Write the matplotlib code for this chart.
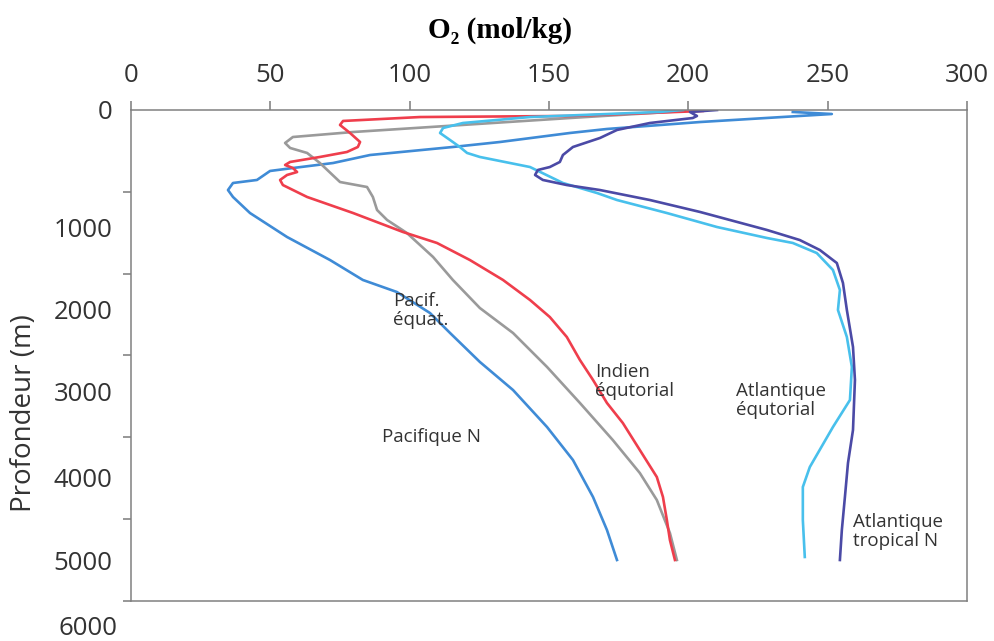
import matplotlib
matplotlib.use('Agg')
import matplotlib.pyplot as plt
import matplotlib.transforms as mtransforms

plt.rcParams['font.family'] = ['Open Sans', 'DejaVu Sans']

# O2 (mol/kg) vs depth (m)
pac_n_o2 = [237.5, 251.5, 204.2, 170.8, 157.5, 132.4, 115.5, 85.8, 72.5, 58.1, 49.9, 45.2, 36.6, 34.8,
            36.6, 42.7, 56.0, 71.4, 83.2, 95.4, 107.3, 114.5, 125.2, 137.1, 149.3, 158.6, 165.8, 170.8, 174.4]
pac_n_depth = [24, 49, 147, 232, 281, 391, 452, 550, 648, 709, 745, 855, 892, 978,
               1063, 1259, 1552, 1833, 2077, 2224, 2481, 2725, 3079, 3422, 3874, 4277, 4729, 5132, 5499]

pac_eq_o2 = [198.8, 157.5, 79.7, 58.1, 55.3, 57.1, 63.2, 67.8, 75.0, 84.7, 86.8, 88.3, 91.9,
             99.0, 108.4, 115.5, 125.2, 137.1, 149.3, 161.1, 172.9, 182.6, 188.7, 193.4, 195.9]
pac_eq_depth = [12, 98, 269, 330, 403, 464, 525, 648, 880, 941, 1063, 1222, 1344,
                1503, 1796, 2077, 2420, 2725, 3140, 3580, 4033, 4436, 4766, 5169, 5499]

ind_eq_o2 = [205.2, 157.5, 103.7, 76.1, 75.0, 78.6, 82.2, 81.4, 77.5, 67.8, 57.1, 55.3, 58.1, 59.6,
             56.0, 53.5, 54.5, 63.2, 79.7, 97.6, 109.8, 121.6, 133.5, 143.2, 150.3, 156.4, 161.1,
             165.8, 170.8, 176.5, 182.6, 188.7, 190.9, 192.3, 193.4, 195.2]
ind_eq_depth = [12, 73, 86, 134, 183, 281, 391, 452, 513, 574, 635, 672, 709, 758,
                794, 855, 917, 1063, 1259, 1491, 1625, 1833, 2077, 2322, 2530, 2774, 3055,
                3299, 3580, 3825, 4155, 4485, 4729, 5010, 5255, 5499]

atl_eq_o2 = [198.1, 189.8, 143.2, 119.1, 112.0, 110.9, 114.5, 118.0, 120.6, 125.2, 143.2, 155.0,
             167.2, 174.4, 192.3, 210.3, 228.2, 237.5, 246.1, 251.9, 254.4, 253.7, 256.9, 258.7,
             258.0, 251.9, 243.6, 241.1, 241.1, 241.8]
atl_eq_depth = [0, 24, 86, 159, 220, 281, 367, 452, 525, 574, 697, 892,
                1014, 1100, 1259, 1430, 1564, 1625, 1748, 1955, 2200, 2444, 2774, 3140,
                3544, 3874, 4363, 4607, 5010, 5462]

atl_tn_o2 = [210.3, 200.6, 203.1, 201.6, 186.2, 174.4, 168.3, 158.6, 155.0, 153.9, 150.3, 146.0,
             145.0, 147.8, 156.4, 168.3, 186.2, 204.2, 228.2, 240.0, 247.2, 253.3, 255.5, 256.9,
             259.1, 259.8, 259.1, 257.3, 256.2, 255.1, 254.4]
atl_tn_depth = [0, 24, 73, 98, 159, 244, 342, 452, 550, 635, 697, 733,
                794, 855, 917, 978, 1100, 1246, 1466, 1589, 1711, 1870, 2114, 2444,
                2896, 3299, 3910, 4314, 4729, 5132, 5499]

depth_labels = ['0', '1000', '2000', '3000', '4000', '5000']
depth_label_pos = [0, 1436, 2444, 3434, 4485, 5499]

fig = plt.figure(figsize=(9.94, 6.41), dpi=100)
ax = fig.add_axes([0.1318, 0.0624, 0.8410, 0.7660])

ax.plot(pac_n_o2, pac_n_depth, color='#3f8bd6', lw=1.9, solid_joinstyle='round')
ax.plot(pac_eq_o2, pac_eq_depth, color='#9a9a9a', lw=1.9, solid_joinstyle='round')
ax.plot(ind_eq_o2, ind_eq_depth, color='#ef3e4c', lw=1.9, solid_joinstyle='round')
ax.plot(atl_eq_o2, atl_eq_depth, color='#48c0ec', lw=1.9, solid_joinstyle='round')
ax.plot(atl_tn_o2, atl_tn_depth, color='#4b4aa6', lw=1.9, solid_joinstyle='round')

ax.set_xlim(0, 300)
ax.set_ylim(6000, 0)
ax.xaxis.tick_top()
ax.set_xticks(range(0, 301, 50))
ax.tick_params(axis='x', length=6.5, width=1.1, color='#7a7a7a', pad=9.5,
               labelsize=18.5, labelcolor='#333333')

ax.set_yticks(depth_label_pos, depth_labels)
ax.set_yticks(range(0, 6001, 1000), minor=True)
ax.tick_params(axis='y', which='major', length=0, pad=13.5, labelsize=18.5, labelcolor='#333333')
ax.tick_params(axis='y', which='minor', length=5.8, width=1.1, color='#7a7a7a')
trans = mtransforms.blended_transform_factory(ax.transAxes, ax.transData)
ax.text(-0.016, 6330, '6000', ha='right', va='center', fontsize=18.5, color='#333333',
        transform=trans, clip_on=False)

for sp in ax.spines.values():
    sp.set_color('#808080')
    sp.set_linewidth(1.1)

# curve names
ax.text(94.0, 2224, 'Pacif.\néquat.', ha='left', va='top', fontsize=13.5, color='#333333', linespacing=1.05)
ax.text(90.1, 3886, 'Pacifique N', ha='left', va='top', fontsize=13.5, color='#333333')
ax.text(166.5, 3092, 'Indien\néqutorial', ha='left', va='top', fontsize=13.5, color='#333333', linespacing=1.05)
ax.text(217.1, 3324, 'Atlantique\néqutorial', ha='left', va='top', fontsize=13.5, color='#333333', linespacing=1.05)
ax.text(259.1, 4925, 'Atlantique\ntropical N', ha='left', va='top', fontsize=13.5, color='#333333', linespacing=1.05)

fig.text(500 / 994, 1 - 30 / 641, 'O₂ (mol/kg)', ha='center', va='center', fontsize=21,
         fontweight='bold', family=['Liberation Serif', 'DejaVu Serif'])
fig.text(24 / 994, 1 - 413 / 641, 'Profondeur (m)', rotation=90, ha='center', va='center',
         fontsize=20, color='#333333')

fig.savefig('out.png', dpi=100)
